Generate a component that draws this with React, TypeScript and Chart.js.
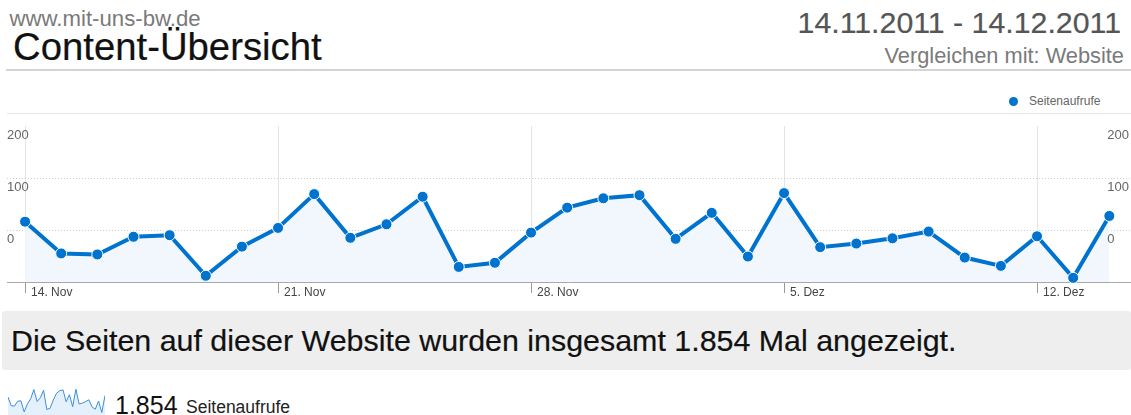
import React, { useEffect, useRef } from "react";
import { Chart, registerables } from "chart.js";

Chart.register(...registerables);

const FONT = '"Liberation Sans", Arial, Helvetica, sans-serif';

// Daily page views 14.11.2011 – 14.12.2011, read against the printed axis
const dayLabels = [
  "14.11.", "15.11.", "16.11.", "17.11.", "18.11.", "19.11.", "20.11.",
  "21.11.", "22.11.", "23.11.", "24.11.", "25.11.", "26.11.", "27.11.",
  "28.11.", "29.11.", "30.11.", "01.12.", "02.12.", "03.12.", "04.12.",
  "05.12.", "06.12.", "07.12.", "08.12.", "09.12.", "10.12.", "11.12.",
  "12.12.", "13.12.", "14.12.",
];
const pageviews = [
  16, -45, -47, -13, -10, -88, -32,
  4, 69, -15, 11, 64, -71, -63,
  -5, 43, 61, 67, -17, 33, -51,
  71, -33, -26, -16, -3, -53, -69,
  -12, -92, 27,
];
const xTickDays = [0, 7, 14, 21, 28];
const xTickLabels = ["14. Nov", "21. Nov", "28. Nov", "5. Dez", "12. Dez"];
const yTickValues = [0, 100, 200];
const seriesName = "Seitenaufrufe";

const BLUE = "#0073cf";

function Txt(props: { style: React.CSSProperties; children: React.ReactNode }) {
  return (
    <div
      style={{
        position: "absolute",
        whiteSpace: "nowrap",
        lineHeight: 1,
        fontFamily: FONT,
        ...props.style,
      }}
    >
      {props.children}
    </div>
  );
}

export default function App() {
  const mainRef = useRef<HTMLCanvasElement>(null);
  const sparkRef = useRef<HTMLCanvasElement>(null);

  useEffect(() => {
    const pts = pageviews.map((v, i) => ({ x: i, y: v }));
    const yCommon = {
      type: "linear" as const,
      min: -100,
      max: 200,
      afterBuildTicks: (s: any) => {
        s.ticks = yTickValues.map((v) => ({ value: v }));
      },
      afterFit: (s: any) => {
        s.width = 0;
      },
    };
    const main = new Chart(mainRef.current!, {
      type: "line",
      data: {
        labels: dayLabels,
        datasets: [
          {
            label: seriesName,
            data: pts,
            borderColor: BLUE,
            borderWidth: 4,
            backgroundColor: "#f1f7fd",
            fill: "start",
            tension: 0,
            pointRadius: 5.5,
            pointBackgroundColor: BLUE,
            pointBorderColor: "#ffffff",
            pointBorderWidth: 1,
            clip: false as any,
          },
        ],
      },
      options: {
        animation: false,
        responsive: false,
        layout: { autoPadding: false, padding: { left: 7, right: 0, top: 12, bottom: 0 } },
        plugins: { legend: { display: false }, tooltip: { enabled: false } },
        scales: {
          x: {
            type: "linear",
            min: -0.5,
            max: 30.6,
            afterBuildTicks: (s: any) => {
              s.ticks = xTickDays.map((v) => ({ value: v }));
            },
            afterFit: (s: any) => {
              s.height = 18;
            },
            ticks: {
              autoSkip: false,
              maxRotation: 0,
              align: "start",
              labelOffset: 6,
              padding: -7.7,
              color: "#444",
              font: { family: FONT, size: 12 },
              callback: (v: any) => {
                const k = xTickDays.indexOf(Number(v));
                return k >= 0 ? xTickLabels[k] : "";
              },
            },
            grid: {
              color: "#e4e4e4",
              tickColor: "#999",
              tickLength: 11,
              drawTicks: true,
            },
            border: { display: true, color: "#a8a8a8" },
          },
          y: {
            ...yCommon,
            position: "left",
            ticks: {
              mirror: true,
              padding: 0,
              labelOffset: 9,
              crossAlign: "near",
              color: "#666",
              font: { family: FONT, size: 13 },
            },
            grid: {
              drawTicks: false,
              color: (ctx: any) =>
                ctx.tick && ctx.tick.value === 200 ? "rgba(0,0,0,0)" : "#cfcfcf",
            },
            border: { display: false, dash: [1, 2] },
          },
          y2: {
            ...yCommon,
            position: "right",
            ticks: {
              z: 1,
              mirror: true,
              padding: -2,
              labelOffset: 9,
              crossAlign: "far",
              color: "#666",
              font: { family: FONT, size: 13 },
            },
            grid: { display: false, drawTicks: false },
            border: { display: false },
          },
        } as any,
      },
    });

    const spark = new Chart(sparkRef.current!, {
      type: "line",
      data: {
        labels: dayLabels,
        datasets: [
          {
            label: seriesName,
            data: pts,
            borderColor: "#3b8ede",
            borderWidth: 1,
            backgroundColor: "#e4f0fb",
            fill: "start",
            pointRadius: 0,
            tension: 0,
          },
        ],
      },
      options: {
        animation: false,
        responsive: false,
        layout: { padding: 0 },
        plugins: { legend: { display: false }, tooltip: { enabled: false } },
        scales: {
          x: { type: "linear", min: 0, max: 30, display: false },
          y: { type: "linear", min: -110, max: 80, display: false },
        },
      },
    });

    return () => {
      main.destroy();
      spark.destroy();
    };
  }, []);

  return (
    <div
      style={{
        position: "absolute",
        left: 0,
        top: 0,
        width: 1131,
        height: 415,
        overflow: "hidden",
        background: "#fff",
        fontFamily: FONT,
      }}
    >
      <Txt style={{ left: 9.5, top: 8.2, fontSize: 22.2, color: "#7a7a7a" }}>
        www.mit-uns-bw.de
      </Txt>
      <Txt style={{ left: 13, top: 27.7, fontSize: 38.3, color: "#111", WebkitTextStroke: "0.2px #111" }}>
        Content-Übersicht
      </Txt>
      <Txt style={{ right: 10, top: 8, fontSize: 30.3, color: "#555", WebkitTextStroke: "0.2px #555" }}>
        14.11.2011 - 14.12.2011
      </Txt>
      <Txt style={{ right: 7, top: 44.5, fontSize: 21.8, color: "#7a7a7a" }}>
        Vergleichen mit: Website
      </Txt>
      <div
        style={{
          position: "absolute",
          left: 6,
          right: 0,
          top: 69,
          height: 2,
          background: "#d4d4d4",
        }}
      />

      <div
        style={{
          position: "absolute",
          left: 1008.5,
          top: 96.5,
          width: 9,
          height: 9,
          borderRadius: "50%",
          background: BLUE,
        }}
      />
      <Txt style={{ left: 1029, top: 94.8, fontSize: 12, color: "#666" }}>
        {seriesName}
      </Txt>
      <div
        style={{
          position: "absolute",
          left: 7,
          right: 0,
          top: 113,
          height: 1,
          background: "#e6e6e6",
        }}
      />

      <canvas
        ref={mainRef}
        width={1131}
        height={186}
        style={{ position: "absolute", left: 0, top: 114, width: 1131, height: 186 }}
      />

      <div
        style={{
          position: "absolute",
          left: 2,
          top: 311,
          width: 1129,
          height: 59,
          background: "#eeeeee",
          borderRadius: 3,
        }}
      />
      <Txt style={{ left: 11, top: 325.4, fontSize: 30.4, color: "#111", WebkitTextStroke: "0.2px #111" }}>
        Die Seiten auf dieser Website wurden insgesamt 1.854 Mal angezeigt.
      </Txt>

      <canvas
        ref={sparkRef}
        width={97}
        height={27}
        style={{ position: "absolute", left: 8, top: 388, width: 97, height: 27 }}
      />
      <Txt style={{ left: 115, top: 392.8, fontSize: 25, color: "#111" }}>1.854</Txt>
      <Txt style={{ left: 186, top: 399.2, fontSize: 17.5, color: "#222" }}>
        {seriesName}
      </Txt>
    </div>
  );
}
